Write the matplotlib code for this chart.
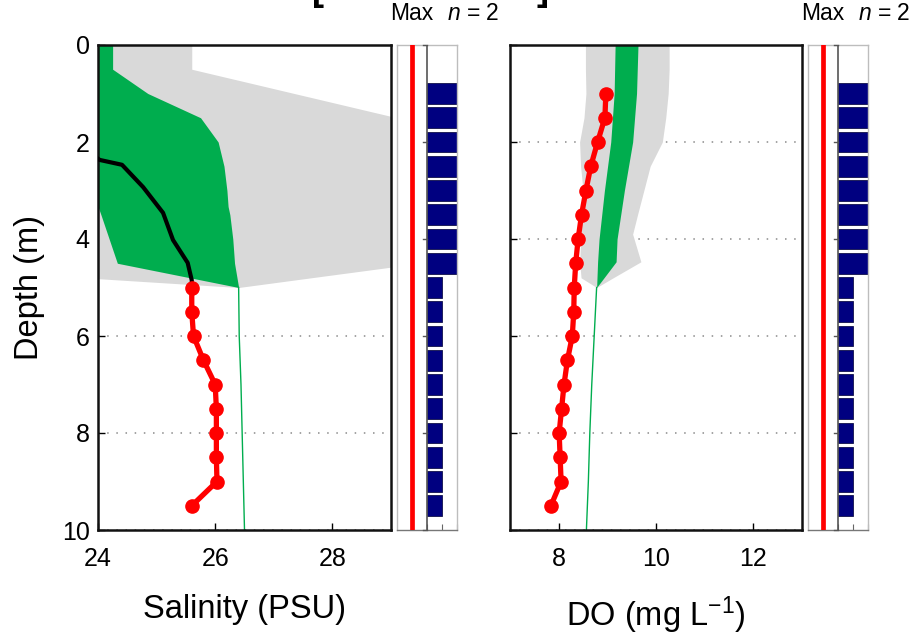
import matplotlib.pyplot as plt

plt.rcParams['font.family'] = ['Liberation Sans', 'DejaVu Sans']
plt.rcParams['mathtext.fontset'] = 'custom'
plt.rcParams['mathtext.rm'] = 'Liberation Sans'
plt.rcParams['mathtext.it'] = 'Liberation Sans:italic'

GRAY = '#d9d9d9'
GREEN = '#00ad4e'
RED = '#ff0000'
NAVY = '#000080'

# ---- salinity profile data (depth in m) ----
sal_gray_depth = [0, 0.5, 0.6, 1.0, 1.5, 2.0, 3.0, 4.0, 4.5, 4.78, 5.0]
sal_gray_min = [24.25, 24.25, 23.5, 23.5, 23.5, 23.5, 23.5, 23.5, 23.5, 23.5, 26.4]
sal_gray_max = [25.6, 25.6, 25.95, 27.35, 29.1, 29.8, 29.8, 29.8, 29.5, 27.76, 26.4]

sal_green_depth = [0, 0.5, 1.0, 1.5, 2.0, 2.5, 3.0, 3.33, 3.5, 4.0, 4.5, 5.0]
sal_green_min = [23.8, 23.8, 23.8, 23.8, 23.8, 23.8, 23.8, 24.0, 24.05, 24.19, 24.33, 26.4]
sal_green_max = [24.25, 24.25, 24.85, 25.75, 26.05, 26.15, 26.2, 26.22, 26.25, 26.3, 26.33, 26.4]

sal_mean_depth = [5, 6, 7, 8, 9, 10]
sal_mean = [26.4, 26.41, 26.44, 26.46, 26.48, 26.5]

sal_black_depth = [2.0, 2.37, 2.47, 2.93, 3.46, 4.02, 4.49, 4.85, 5.0]
sal_black = [23.6, 24.03, 24.41, 24.77, 25.11, 25.28, 25.53, 25.6, 25.6]

sal_red_depth = [5.0, 5.5, 6.0, 6.5, 7.0, 7.5, 8.0, 8.5, 9.0, 9.5]
sal_red = [25.6, 25.6, 25.63, 25.8, 26.0, 26.02, 26.02, 26.02, 26.03, 25.6]

# ---- dissolved oxygen profile data ----
do_gray_depth = [0, 0.5, 1.0, 1.5, 2.0, 2.5, 3.0, 3.5, 3.9, 4.47, 4.8, 5.0]
do_gray_min = [8.55, 8.55, 8.56, 8.52, 8.43, 8.45, 8.5, 8.48, 8.46, 8.43, 8.46, 8.78]
do_gray_max = [10.27, 10.27, 10.25, 10.2, 10.13, 9.88, 9.75, 9.62, 9.52, 9.69, 9.12, 8.78]

do_green_depth = [0, 1, 2, 3, 4, 4.47, 5.0]
do_green_min = [9.16, 9.14, 9.07, 8.94, 8.83, 8.8, 8.78]
do_green_max = [9.63, 9.6, 9.52, 9.35, 9.2, 9.18, 8.78]

do_mean_depth = [5, 6, 7, 8, 9, 10]
do_mean = [8.78, 8.73, 8.68, 8.64, 8.61, 8.57]

do_red_depth = [1.0, 1.5, 2.0, 2.5, 3.0, 3.5, 4.0, 4.5, 5.0,
                5.5, 6.0, 6.5, 7.0, 7.5, 8.0, 8.5, 9.0, 9.5]
do_red = [8.97, 8.95, 8.80, 8.66, 8.56, 8.47, 8.40, 8.35, 8.32,
          8.31, 8.28, 8.18, 8.11, 8.06, 8.01, 8.03, 8.05, 7.84]

# ---- sample counts per 0.5 m bin ----
bin_depth = [1.0, 1.5, 2.0, 2.5, 3.0, 3.5, 4.0, 4.5, 5.0,
             5.5, 6.0, 6.5, 7.0, 7.5, 8.0, 8.5, 9.0, 9.5]
bin_n = [2, 2, 2, 2, 2, 2, 2, 2, 1, 1, 1, 1, 1, 1, 1, 1, 1, 1]
n_max = 2

depth_ticks = [0, 2, 4, 6, 8, 10]

fig = plt.figure(figsize=(9.13, 6.34), dpi=100)

W, H = 913.0, 634.0
def box(x0, x1, y0=45, y1=530):
    return [x0 / W, 1 - y1 / H, (x1 - x0) / W, (y1 - y0) / H]

ax_sal = fig.add_axes(box(98, 391))
ax_sal_n = fig.add_axes(box(397, 457))
ax_do = fig.add_axes(box(510, 802))
ax_do_n = fig.add_axes(box(808, 868))


def style_main(ax, xlim, xticks):
    ax.set_xlim(*xlim)
    ax.set_ylim(10, 0)
    ax.set_xticks(xticks)
    ax.set_yticks(depth_ticks)
    ax.set_axisbelow(True)
    ax.yaxis.grid(True, linestyle=(0, (1, 5)), color='#8a8a8a', linewidth=1.1)
    ax.tick_params(direction='in', length=5, width=1, labelsize=18)
    ax.tick_params(axis='x', pad=12)
    ax.tick_params(axis='y', pad=6)
    for s in ax.spines.values():
        s.set_linewidth(1.8)
        s.set_color('#111111')


def draw_profile(ax, gd, gmin, gmax, ed, emin, emax, md, mean, rd, red):
    ax.fill_betweenx(gd, gmin, gmax, color=GRAY, linewidth=0, zorder=1)
    ax.fill_betweenx(ed, emin, emax, color=GREEN, linewidth=0, zorder=2)
    ax.plot(mean, md, color=GREEN, linewidth=1.0, zorder=2)
    ax.plot(red, rd, color=RED, linewidth=3.8, marker='o', markersize=9.5,
            zorder=4)


def draw_counts(ax):
    ax.set_xlim(-n_max, n_max)
    ax.set_ylim(10, 0)
    ax.axvline(-1, color=RED, linewidth=3.4, zorder=3)
    ax.barh(bin_depth, bin_n, height=0.43, color=NAVY, edgecolor='#10104a',
            linewidth=0.6, zorder=2)
    ax.axvline(0, color='#555555', linewidth=1.2, zorder=4)
    ax.set_xticks([0, 1, 2])
    ax.set_yticks([])
    ax.tick_params(axis='x', direction='in', length=4, labelbottom=False,
                   color='#666666')
    for s in ax.spines.values():
        s.set_linewidth(1.0)
        s.set_color('#bdbdbd')
    ax.spines['bottom'].set_color('#777777')
    for d in depth_ticks:
        ax.plot([-0.25, 0.0], [d, d], color='#555555', linewidth=1.0, zorder=4,
                clip_on=False)
    ax.text(-1, 1.064, 'Max', transform=ax.get_xaxis_transform(),
            ha='center', va='center', fontsize=16.5)
    ax.text(1.3, 1.064, '$n$ = 2', transform=ax.get_xaxis_transform(),
            ha='left', va='center', fontsize=16.5)


draw_profile(ax_sal, sal_gray_depth, sal_gray_min, sal_gray_max,
             sal_green_depth, sal_green_min, sal_green_max,
             sal_mean_depth, sal_mean, sal_red_depth, sal_red)
ax_sal.plot(sal_black, sal_black_depth, color='black', linewidth=3.0, zorder=3)
style_main(ax_sal, (24, 29), [24, 26, 28])
ax_sal.set_ylabel('Depth (m)', fontsize=23.5, labelpad=12)
ax_sal.set_xlabel('Salinity (PSU)', fontsize=23.5, labelpad=17)

draw_profile(ax_do, do_gray_depth, do_gray_min, do_gray_max,
             do_green_depth, do_green_min, do_green_max,
             do_mean_depth, do_mean, do_red_depth, do_red)
style_main(ax_do, (7, 13), [8, 10, 12])
ax_do.tick_params(axis='y', labelleft=False)
ax_do.set_xlabel('DO (mg L$^{-1}$)', fontsize=23.5, labelpad=17)

draw_counts(ax_sal_n)
draw_counts(ax_do_n)

# heading brackets that the reference shows cut off at the top edge
fig.text(318 / W, 1.0, '[', fontsize=26, fontweight='bold', ha='center',
         va='baseline')
fig.text(542 / W, 1.0, ']', fontsize=26, fontweight='bold', ha='center',
         va='baseline')

fig.savefig('out.png', dpi=100)
